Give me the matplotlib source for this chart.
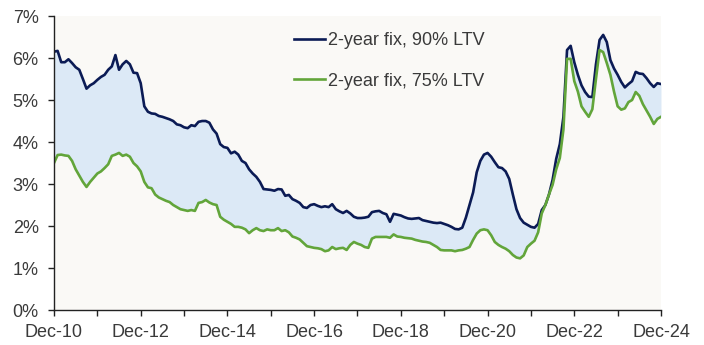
import matplotlib
matplotlib.use("Agg")
import matplotlib.pyplot as plt
import numpy as np

# monthly, Dec-2010 .. Dec-2024
rate_90 = [
    6.15, 6.17, 5.90, 5.90, 5.97, 5.88, 5.78, 5.72, 5.50, 5.27, 5.35, 5.40,
    5.48, 5.55, 5.60, 5.72, 5.80, 6.07, 5.72, 5.85, 5.93, 5.85, 5.65, 5.64,
    5.40, 4.85, 4.72, 4.68, 4.67, 4.62, 4.60, 4.57, 4.54, 4.50, 4.42, 4.40,
    4.35, 4.33, 4.40, 4.38, 4.48, 4.50, 4.50, 4.46, 4.30, 4.20, 3.95, 3.88,
    3.86, 3.73, 3.77, 3.70, 3.55, 3.50, 3.35, 3.25, 3.17, 3.05, 2.88, 2.87,
    2.86, 2.84, 2.88, 2.87, 2.72, 2.74, 2.64, 2.60, 2.55, 2.45, 2.43, 2.50,
    2.52, 2.48, 2.45, 2.47, 2.45, 2.52, 2.40, 2.35, 2.31, 2.36, 2.30, 2.22,
    2.19, 2.19, 2.20, 2.22, 2.33, 2.35, 2.36, 2.31, 2.28, 2.10, 2.29, 2.27,
    2.25, 2.21, 2.18, 2.17, 2.18, 2.19, 2.14, 2.12, 2.10, 2.08, 2.07, 2.08,
    2.05, 2.02, 1.98, 1.93, 1.92, 1.96, 2.20, 2.50, 2.80, 3.28, 3.55, 3.70,
    3.74, 3.65, 3.52, 3.40, 3.38, 3.30, 3.12, 2.75, 2.40, 2.19, 2.08, 2.03,
    1.98, 1.96, 2.05, 2.38, 2.50, 2.75, 3.10, 3.60, 3.95, 4.60, 6.19, 6.29,
    5.90, 5.60, 5.35, 5.19, 5.08, 5.07, 5.85, 6.43, 6.55, 6.38, 5.95, 5.75,
    5.60, 5.43, 5.30, 5.38, 5.45, 5.67, 5.63, 5.62, 5.52, 5.40, 5.31, 5.40,
    5.38,
]
rate_75 = [
    3.50, 3.69, 3.70, 3.68, 3.67, 3.55, 3.35, 3.20, 3.05, 2.93, 3.05, 3.15,
    3.25, 3.30, 3.38, 3.47, 3.67, 3.70, 3.74, 3.67, 3.70, 3.65, 3.50, 3.42,
    3.30, 3.05, 2.92, 2.90, 2.75, 2.68, 2.64, 2.60, 2.57, 2.50, 2.45, 2.40,
    2.38, 2.36, 2.38, 2.36, 2.55, 2.57, 2.62, 2.56, 2.52, 2.50, 2.22, 2.15,
    2.10, 2.05, 1.98, 1.98, 1.96, 1.92, 1.83, 1.90, 1.95, 1.90, 1.88, 1.92,
    1.90, 1.90, 1.95, 1.88, 1.90, 1.85, 1.75, 1.72, 1.68, 1.60, 1.52, 1.50,
    1.48, 1.47, 1.45, 1.40, 1.42, 1.50, 1.45, 1.47, 1.48, 1.43, 1.55, 1.62,
    1.58, 1.55, 1.50, 1.48, 1.70, 1.74, 1.74, 1.74, 1.74, 1.72, 1.80, 1.75,
    1.74, 1.72, 1.71, 1.70, 1.67, 1.65, 1.63, 1.62, 1.60, 1.55, 1.50, 1.43,
    1.42, 1.42, 1.42, 1.40, 1.42, 1.43, 1.46, 1.50, 1.67, 1.82, 1.90, 1.92,
    1.90, 1.78, 1.62, 1.55, 1.50, 1.46, 1.40, 1.31, 1.25, 1.23, 1.30, 1.50,
    1.58, 1.65, 1.85, 2.30, 2.50, 2.75, 2.98, 3.35, 3.62, 4.30, 5.98, 5.98,
    5.45, 5.20, 4.85, 4.72, 4.60, 4.78, 5.50, 6.19, 6.14, 5.88, 5.60, 5.20,
    4.85, 4.77, 4.80, 4.95, 5.00, 5.19, 5.10, 4.90, 4.75, 4.60, 4.43, 4.55,
    4.60,
]
tick_labels = ["Dec-10", "Dec-12", "Dec-14", "Dec-16", "Dec-18", "Dec-20", "Dec-22", "Dec-24"]
y_labels = ["0%", "1%", "2%", "3%", "4%", "5%", "6%", "7%"]

plt.rcParams["font.family"] = ["Liberation Sans", "DejaVu Sans"]

months = np.arange(len(rate_90))

fig = plt.figure(figsize=(7.04, 3.45), dpi=100)
ax = fig.add_axes([0.0767, 0.1014, 0.8622, 0.8522])
ax.set_facecolor("#FAF9F6")

ax.fill_between(months, rate_75, rate_90, color="#DCE9F6", lw=0)
ax.plot(months, rate_90, color="#0B1B55", lw=1.9, label="2-year fix, 90% LTV")
ax.plot(months, rate_75, color="#62A53A", lw=1.9, label="2-year fix, 75% LTV")

ax.set_xlim(0, len(months) - 1)
ax.set_ylim(0, 7)
ax.set_yticks(np.arange(len(y_labels)))
ax.set_yticklabels(y_labels)
ax.set_xticks(np.arange(0, len(months), 24))
ax.set_xticklabels(tick_labels)
ax.set_xticks(np.arange(12, len(months), 24), minor=True)

for s in ["top", "right"]:
    ax.spines[s].set_visible(False)
for s in ["left", "bottom"]:
    ax.spines[s].set_color("#222222")
    ax.spines[s].set_linewidth(1.0)

ax.tick_params(axis="both", which="both", direction="out", length=4, width=1,
               color="#222222", labelsize=13, labelcolor="#3a3a3a")
ax.tick_params(axis="y", pad=7)
ax.tick_params(axis="x", pad=6)

leg = ax.legend(loc="upper left", bbox_to_anchor=(0.368, 1.0), frameon=False,
                fontsize=13, handlelength=1.75, handletextpad=0.15,
                labelspacing=1.3, labelcolor="#3a3a3a")

fig.savefig("out.png", dpi=100, facecolor="white")
